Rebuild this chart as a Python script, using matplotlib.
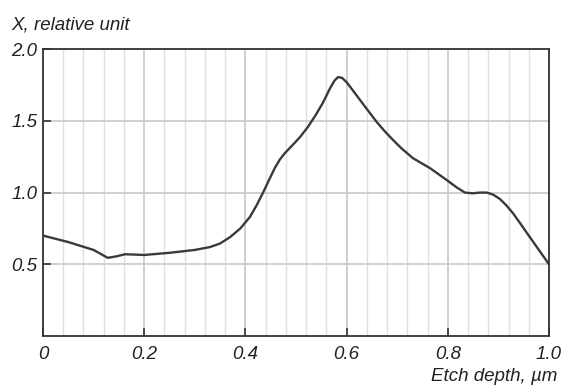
import matplotlib.pyplot as plt
from matplotlib.ticker import MultipleLocator

plt.rcParams['font.family'] = ['Liberation Sans', 'DejaVu Sans']

depth = [0.0, 0.05, 0.10, 0.128, 0.145, 0.162, 0.20, 0.25, 0.30, 0.33, 0.35,
         0.37, 0.39, 0.409, 0.422, 0.435, 0.447, 0.458, 0.468, 0.478, 0.493,
         0.508, 0.523, 0.538, 0.553, 0.567, 0.576, 0.583, 0.591, 0.60, 0.615,
         0.632, 0.646, 0.66, 0.676, 0.692, 0.708, 0.731, 0.765, 0.798, 0.818,
         0.834, 0.849, 0.864, 0.877, 0.89, 0.903, 0.916, 0.929, 0.945, 0.962,
         0.98, 1.0]
x_val = [0.70, 0.655, 0.60, 0.545, 0.555, 0.57, 0.565, 0.58, 0.60, 0.62, 0.645,
         0.69, 0.75, 0.83, 0.91, 1.0, 1.09, 1.17, 1.23, 1.275, 1.33,
         1.387, 1.455, 1.535, 1.625, 1.725, 1.78, 1.805, 1.80, 1.77, 1.70,
         1.62, 1.555, 1.49, 1.425, 1.366, 1.31, 1.24, 1.17, 1.087, 1.035,
         1.0, 0.995, 1.0, 1.0, 0.985, 0.955, 0.91, 0.855, 0.776, 0.69,
         0.60, 0.50]

xticks = [0, 0.2, 0.4, 0.6, 0.8, 1.0]
xlabels = ['0', '0.2', '0.4', '0.6', '0.8', '1.0']
yticks = [0.5, 1.0, 1.5, 2.0]
ylabels = ['0.5', '1.0', '1.5', '2.0']

fig = plt.figure(figsize=(5.61, 3.87), dpi=100)
ax = fig.add_axes([0.0766, 0.1318, 0.9020, 0.7412])

ax.set_xlim(0, 1.0)
ax.set_ylim(0, 2.0)
ax.xaxis.set_minor_locator(MultipleLocator(0.04))
ax.grid(which='minor', axis='x', color='#e0e0e0', lw=1.0)
ax.grid(which='major', axis='x', color='#c8c8c8', lw=1.2)
ax.grid(which='major', axis='y', color='#c8c8c8', lw=1.2)
ax.set_axisbelow(True)

ax.plot(depth, x_val, color='#3a3a3a', lw=1.7, solid_capstyle='round', solid_joinstyle='round')

ax.set_xticks(xticks)
ax.set_xticklabels(xlabels, fontsize=13.5, style='italic', color='#222222')
ax.set_yticks(yticks)
ax.set_yticklabels(ylabels, fontsize=13.5, style='italic', color='#222222')
ax.tick_params(which='major', direction='in', length=6, width=1.2, color='#333333')
ax.tick_params(axis='x', pad=7)
ax.tick_params(axis='y', pad=4)
ax.tick_params(which='minor', length=0)
for s in ax.spines.values():
    s.set_color('#333333')
    s.set_linewidth(1.3)

fig.text(0.02, 0.935, 'X, relative unit', fontsize=13.5, style='italic', color='#222222', va='center')
fig.text(0.993, 0.028, 'Etch depth, µm', fontsize=13.5, style='italic', color='#222222', ha='right', va='center')

fig.savefig('out.png', dpi=100)
